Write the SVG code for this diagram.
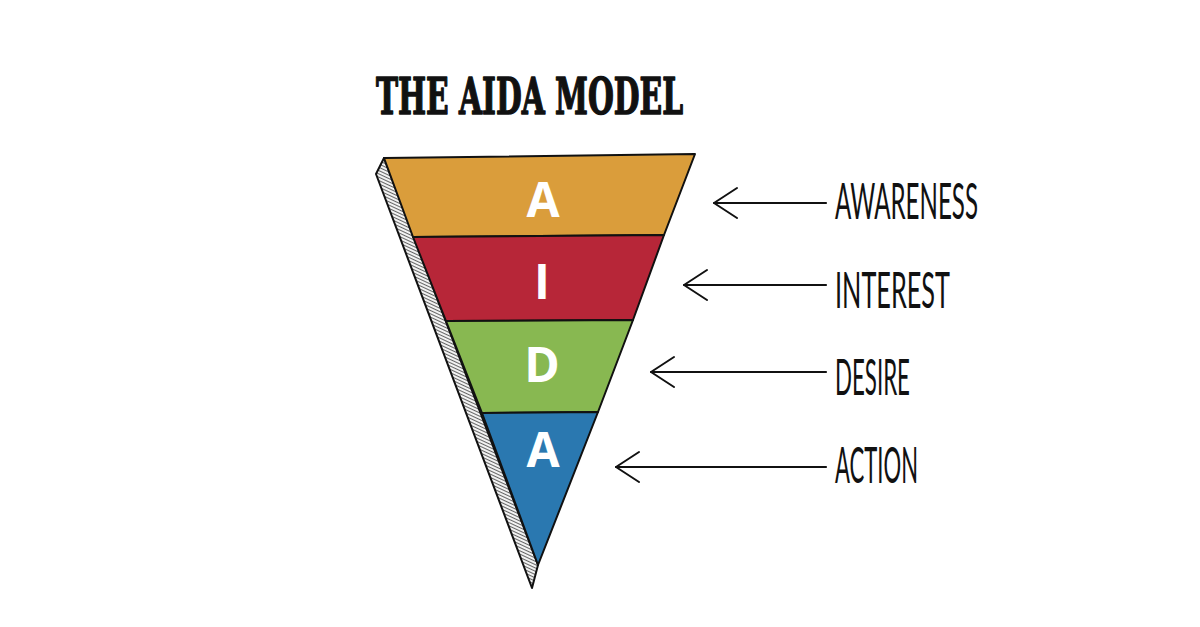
<svg xmlns="http://www.w3.org/2000/svg" width="1200" height="627" viewBox="0 0 1200 627">
<defs>
<pattern id="hatch" patternUnits="userSpaceOnUse" width="3" height="3" patternTransform="rotate(25)">
<rect width="3" height="3" fill="#f2f2f2"/>
<line x1="0" y1="0.5" x2="3" y2="0.5" stroke="#555" stroke-width="0.9"/>
</pattern>
<marker id="arrow" markerUnits="userSpaceOnUse" markerWidth="30" markerHeight="36" refX="25" refY="18" orient="auto">
<path d="M2,3 L25,18 L2,33" fill="none" stroke="#111" stroke-width="2" stroke-linecap="round" stroke-linejoin="round"/>
</marker>
<style>
.band{stroke:#111;stroke-width:2;stroke-linejoin:round}
.letter{font-family:"Open Sans","Liberation Sans",sans-serif;font-weight:bold;font-size:48px;fill:#fff;text-anchor:middle}
.label{font-family:"Lato","DejaVu Sans",sans-serif;font-weight:normal;font-size:50px;fill:#111}
.conn{stroke:#111;stroke-width:2.2;fill:none;stroke-linecap:round}
</style>
</defs>
<rect width="1200" height="627" fill="#fff"/>
<text id="title" x="376" y="114" font-family="'DejaVu Serif',serif" font-weight="bold" font-size="50" textLength="307" lengthAdjust="spacingAndGlyphs" fill="#111" stroke="#111" stroke-width="1.6" stroke-linejoin="round">THE AIDA MODEL</text>
<g id="funnel-side">
<polygon points="384,158 376,174 532,588 538,565" fill="url(#hatch)" stroke="#111" stroke-width="2" stroke-linejoin="round"/>
</g>
<g id="node-awareness">
<polygon class="band" points="384,158 695,154 664,235 413,237" fill="#DA9D3B"/>
<text class="letter" x="543" y="217">A</text>
</g>
<g id="node-interest">
<polygon class="band" points="413,237 664,235 633,320 446,321" fill="#B72638"/>
<text class="letter" x="542" y="299">I</text>
</g>
<g id="node-desire">
<polygon class="band" points="446,321 633,320 598,412 482,413" fill="#88B851"/>
<text class="letter" x="542" y="382">D</text>
</g>
<g id="node-action">
<polygon class="band" points="482,413 598,412 538,565" fill="#2A78B0"/>
<text class="letter" x="543" y="467">A</text>
</g>
<g id="connectors">
<line class="conn" x1="826" y1="203" x2="714" y2="203" marker-end="url(#arrow)"/>
<line class="conn" x1="826" y1="285" x2="684" y2="285" marker-end="url(#arrow)"/>
<line class="conn" x1="826" y1="372" x2="651" y2="372" marker-end="url(#arrow)"/>
<line class="conn" x1="826" y1="467" x2="616" y2="467" marker-end="url(#arrow)"/>
</g>
<g id="labels">
<text class="label" x="835" y="219" textLength="143" lengthAdjust="spacingAndGlyphs">AWARENESS</text>
<text class="label" x="835" y="308" textLength="115" lengthAdjust="spacingAndGlyphs">INTEREST</text>
<text class="label" x="835" y="395" textLength="75" lengthAdjust="spacingAndGlyphs">DESIRE</text>
<text class="label" x="835" y="483" textLength="83" lengthAdjust="spacingAndGlyphs">ACTION</text>
</g>
</svg>
